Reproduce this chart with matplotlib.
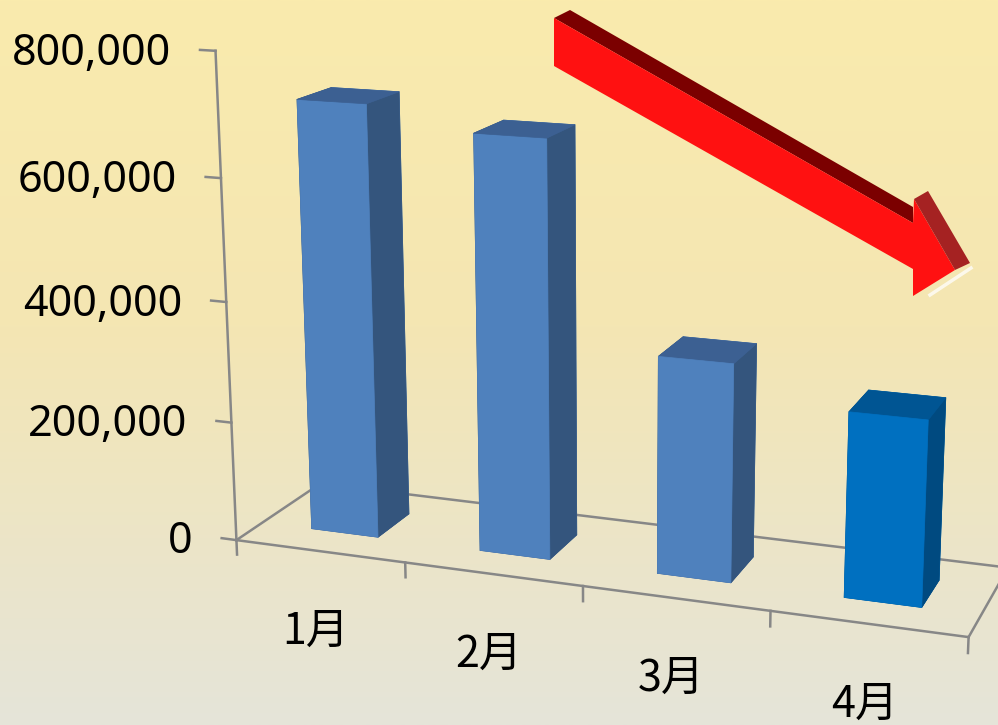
import numpy as np
import matplotlib
matplotlib.use('Agg')
import matplotlib.pyplot as plt
from matplotlib.colors import LinearSegmentedColormap
from matplotlib.patches import Polygon
from mpl_toolkits.mplot3d import proj3d

# Chart data
months = ['1月', '2月', '3月', '4月']
sales = [715000, 680000, 353000, 296000]
value_ticks = [0, 200000, 400000, 600000, 800000]

# Bar colours (front, side, top); the last month is highlighted
front_colors = ['#4F81BD', '#4F81BD', '#4F81BD', '#0070C0']
side_colors = ['#34557D', '#34557D', '#34557D', '#004A80']
top_colors = ['#3C6092', '#3C6092', '#3C6092', '#005593']

W, H = 998, 725
line_color = '#878787'
line_width = 1.8

fig = plt.figure(figsize=(W / 100, H / 100), dpi=100)

# Background gradient (pale yellow to grey-beige)
bg = fig.add_axes([0, 0, 1, 1])
cmap = LinearSegmentedColormap.from_list(
    'bg', [(0.0, '#FAEBAD'), (0.45, '#F4E6B3'), (1.0, '#E5E4D9')])
bg.imshow(np.linspace(0, 1, 256).reshape(-1, 1), cmap=cmap, aspect='auto',
          extent=[0, 1, 0, 1])
bg.axis('off')

# 3D axes, view tuned to match the Excel perspective
ax = fig.add_axes([0.1441, -0.0820, 0.9217, 1.2688], projection='3d')
ax.set_facecolor('none')
ax.set_xlim(0, len(months))
ax.set_ylim(0, 1)
ax.set_zlim(0, value_ticks[-1])
ax.view_init(elev=14.758, azim=-70.146, roll=0)
ax.set_proj_type('persp', focal_length=0.4828)
ax.set_box_aspect((1, 0.2506, 0.6643))
ax.set_axis_off()


def screen_point(x, y, z):
    """Projects a 3D data point to the 2D coordinates of the 3D axes."""
    u, v, _ = proj3d.proj_transform(x, y, z, ax.get_proj())
    return float(u), float(v)


# Floor outline
n = len(months)
ax.plot([0, n], [1, 1], [0, 0], color=line_color, lw=line_width)
ax.plot([0, 0], [0, 1], [0, 0], color=line_color, lw=line_width)
ax.plot([n, n], [0, 1], [0, 0], color=line_color, lw=line_width)
ax.plot([0, n], [0, 0], [0, 0], color=line_color, lw=line_width)

# Value axis with ticks and labels
ax.plot([0, 0], [0, 0], [0, value_ticks[-1]], color=line_color, lw=line_width)
for z in value_ticks:
    ax.plot([-0.09, 0], [0, 0], [z, z], color=line_color, lw=line_width)
    ax.annotate(f'{z:,}', xy=screen_point(-0.09, 0, z), xytext=(-29, -15),
                textcoords='offset pixels', ha='right', va='baseline',
                fontsize=31, family='Noto Sans', color='black',
                annotation_clip=False)

# Category ticks and labels
for i in range(n + 1):
    ax.plot([i, i], [0, 0], [0, -25000], color=line_color, lw=line_width)
for i, m in enumerate(months):
    ax.annotate(m, xy=screen_point(i + 0.5, 0, 0), xytext=(-4, -81),
                textcoords='offset pixels', ha='center', va='center',
                fontsize=31, family=['Noto Sans CJK JP', 'DejaVu Sans'],
                color='black', annotation_clip=False)

# Bars (faces: -z, +z, -y, +y, -x, +x)
for i, v in enumerate(sales):
    cols = [top_colors[i], top_colors[i], front_colors[i], front_colors[i],
            side_colors[i], side_colors[i]]
    ax.bar3d(i + 0.3, 0.3, 0, 0.4, 0.4, v, color=cols, edgecolor=cols,
             linewidth=0.5, shade=False)


# Red downward trend arrow (decoration, figure pixel positions)
def px(points):
    return [(x / W, 1 - y / H) for x, y in points]


arrow_top = [(554, 18), (570, 10), (913, 207), (913, 223)]
arrow_front = [(554, 18), (913, 223), (914, 199), (955, 270), (913, 296),
               (913, 269), (554, 66)]
arrow_side = [(914, 199), (928, 191), (970, 263), (955, 270)]
fig.add_artist(Polygon(px(arrow_top), closed=True, fc='#7B0000', ec='none',
                       transform=fig.transFigure))
fig.add_artist(Polygon(px(arrow_front), closed=True, fc='#FF1111', ec='none',
                       transform=fig.transFigure))
fig.add_artist(Polygon(px(arrow_side), closed=True, fc='#A52222', ec='none',
                       transform=fig.transFigure))
fig.add_artist(plt.Line2D([930 / W, 971 / W], [1 - 295 / H, 1 - 268 / H],
                          color='white', lw=2.5, alpha=0.75,
                          transform=fig.transFigure))

fig.savefig('out.png', dpi=100)
